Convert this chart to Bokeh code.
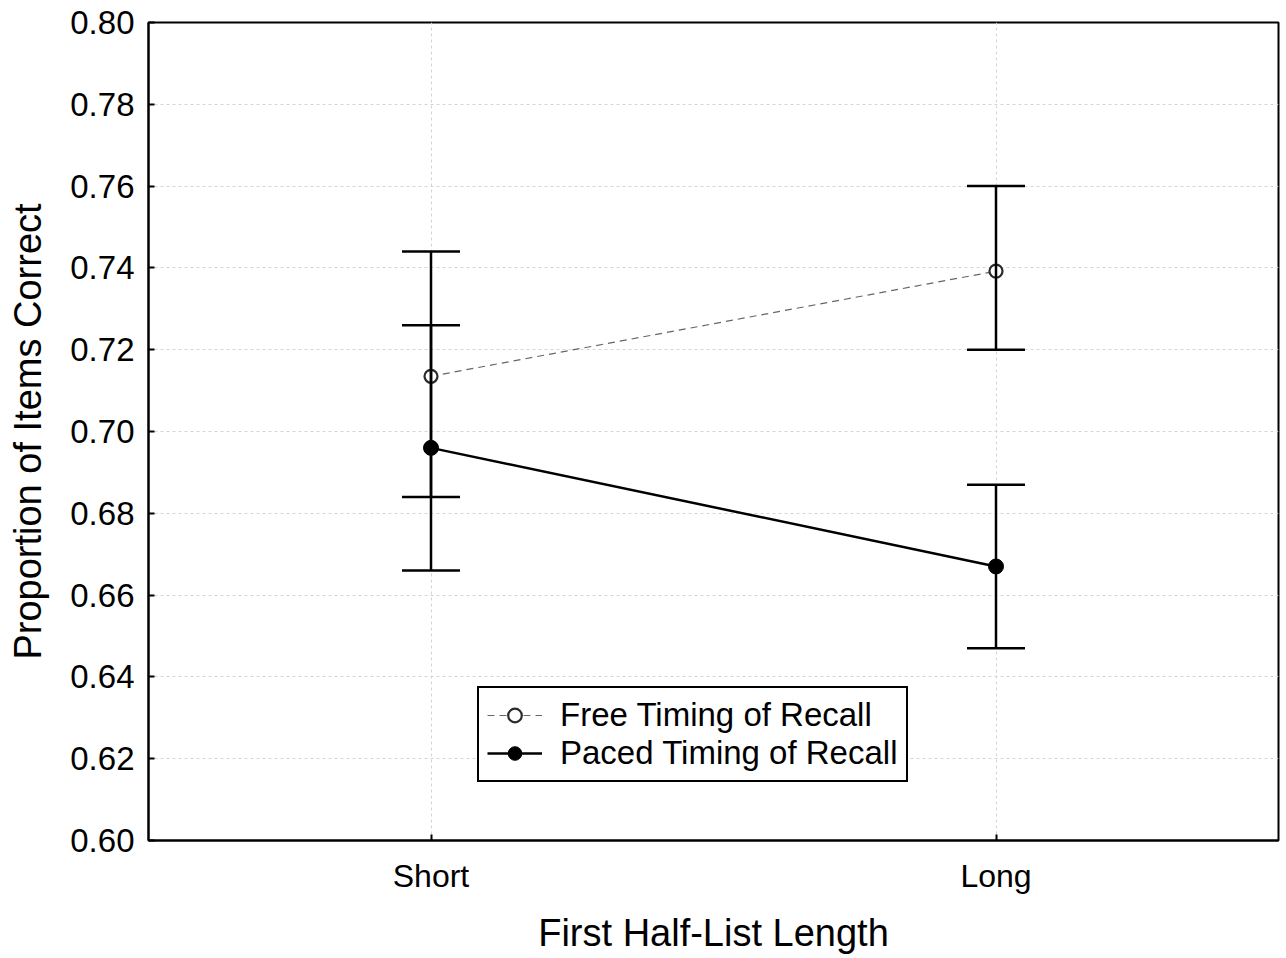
from bokeh.plotting import figure
from bokeh.models import (ColumnDataSource, Whisker, TeeHead, FactorRange, Range1d,
                          FixedTicker, PrintfTickFormatter, Legend, LegendItem)
from bokeh.embed import file_html
from bokeh.resources import INLINE

categories = ["Short", "Long"]
free_mean = [0.7135, 0.7392]
free_lower = [0.684, 0.720]
free_upper = [0.744, 0.760]
paced_mean = [0.696, 0.667]
paced_lower = [0.666, 0.647]
paced_upper = [0.726, 0.687]
y_ticks = [0.60, 0.62, 0.64, 0.66, 0.68, 0.70, 0.72, 0.74, 0.76, 0.78, 0.80]

FONT = "Liberation Sans"

p = figure(width=1280, height=956, output_backend="svg", toolbar_location=None,
           x_range=FactorRange(*categories, range_padding=0), y_range=Range1d(0.60, 0.80),
           min_border_left=148, min_border_right=2, min_border_top=22, min_border_bottom=116)
p.background_fill_color = "white"
p.border_fill_color = "white"
p.outline_line_color = "black"
p.outline_line_width = 2
p.outline_line_alpha = 1

# grids
for g in (p.xgrid, p.ygrid):
    g.grid_line_color = "#d4d4d4"
    g.grid_line_dash = "3 3"
    g.grid_line_width = 1

# axes
p.yaxis.ticker = FixedTicker(ticks=y_ticks)
p.yaxis.formatter = PrintfTickFormatter(format="%.2f")
for ax in (p.xaxis, p.yaxis):
    ax.axis_line_width = 2
    ax.axis_line_color = "black"
    ax.major_tick_in = 6
    ax.major_tick_out = 0
    ax.major_tick_line_width = 2
    ax.minor_tick_line_color = None
    ax.major_label_text_font = FONT
    ax.axis_label_text_font = FONT
    ax.axis_label_text_font_style = "normal"
    ax.major_label_text_color = "black"
    ax.axis_label_text_color = "black"
    ax.axis_label_text_font_size = "38px"
p.yaxis.major_label_text_font_size = "33px"
p.xaxis.major_label_text_font_size = "32px"
p.yaxis.major_label_standoff = 14
p.xaxis.major_label_standoff = 17
p.yaxis.axis_label = "Proportion of Items Correct"
p.xaxis.axis_label = "First Half-List Length"
p.yaxis.axis_label_standoff = 18
p.xaxis.axis_label_standoff = 15

free_src = ColumnDataSource(dict(x=categories, y=free_mean, lo=free_lower, hi=free_upper))
paced_src = ColumnDataSource(dict(x=categories, y=paced_mean, lo=paced_lower, hi=paced_upper))

for src in (free_src, paced_src):
    w = Whisker(source=src, base="x", lower="lo", upper="hi", dimension="height",
                line_color="black", line_width=2.5, level="glyph",
                upper_head=TeeHead(size=58, line_color="black", line_width=2.5),
                lower_head=TeeHead(size=58, line_color="black", line_width=2.5))
    p.add_layout(w)

free_line = p.line("x", "y", source=free_src, line_color="#666666", line_width=1.2,
                   line_dash="7 5")
paced_line = p.line("x", "y", source=paced_src, line_color="black", line_width=2.5)
free_pts = p.scatter("x", "y", source=free_src, marker="circle", size=13,
                     fill_color="white", line_color="#2a2a2a", line_width=2.2)
paced_pts = p.scatter("x", "y", source=paced_src, marker="circle", size=15,
                      fill_color="black", line_color="black", line_width=1)

legend = Legend(items=[
    LegendItem(label="Free Timing of Recall", renderers=[free_line, free_pts]),
    LegendItem(label="Paced Timing of Recall", renderers=[paced_line, paced_pts]),
], location=(329, 58))
legend.label_text_font = FONT
legend.label_text_font_size = "33px"
legend.label_text_color = "black"
legend.border_line_color = "black"
legend.border_line_width = 2
legend.border_line_alpha = 1
legend.background_fill_alpha = 1
legend.glyph_width = 55
legend.glyph_height = 34
legend.label_height = 34
legend.spacing = 0
legend.padding = 8
legend.margin = 0
legend.label_standoff = 18
p.add_layout(legend, "center")

open("out.html", "w").write(file_html(p, INLINE))
